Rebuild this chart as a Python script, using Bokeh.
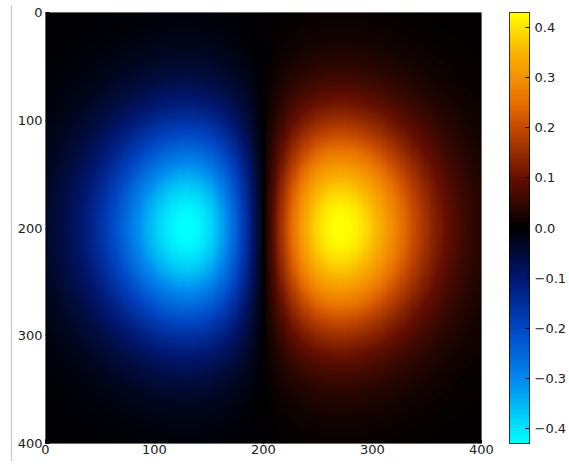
import numpy as np
from bokeh.plotting import figure
from bokeh.layouts import row
from bokeh.models import (LinearColorMapper, FixedTicker, Range1d,
                          CustomJSTickFormatter, Div)
from bokeh.embed import file_html
from bokeh.resources import INLINE

# ---- data: image field sampled on a 400 x 400 grid ----
n_pixels = 400
x_extent = [-2.0, 2.0]
y_extent = [-2.0, 2.0]
axis_ticks = [0, 100, 200, 300, 400]
cbar_ticks = [-0.4, -0.3, -0.2, -0.1, 0.0, 0.1, 0.2, 0.3, 0.4]

# ---- colormap anchors (fraction of range, RGB) ----
cmap_pos = [0.0, 0.15, 0.27, 0.385, 0.5, 0.615, 0.73, 0.79, 0.85, 0.91, 1.0]
cmap_rgb = [(0, 255, 255), (0, 135, 238), (0, 68, 195), (0, 22, 110),
            (0, 0, 0), (100, 14, 0), (195, 70, 0), (230, 110, 0),
            (245, 145, 0), (250, 180, 0), (255, 255, 0)]

xs = np.linspace(x_extent[0], x_extent[1], n_pixels)
ys = np.linspace(y_extent[0], y_extent[1], n_pixels)
X, Y = np.meshgrid(xs, ys)
Z = (X * np.exp(-X ** 2 - Y ** 2)).astype(np.float32)

t = np.linspace(0, 1, 256)
pos = np.array(cmap_pos)
rgb = np.array(cmap_rgb, dtype=float)
palette = []
for ti in t:
    r = np.interp(ti, pos, rgb[:, 0])
    g = np.interp(ti, pos, rgb[:, 1])
    b = np.interp(ti, pos, rgb[:, 2])
    palette.append("#%02x%02x%02x" % (int(round(r)), int(round(g)), int(round(b))))

vmax = float(np.abs(Z).max())
mapper = LinearColorMapper(palette=palette, low=-vmax, high=vmax)

FONT = "DejaVu Sans"
FSIZE = "13px"
TXT = "#222222"

# ---- thin grey rule at the left edge ----
edge = Div(text='<div style="margin-left:11px;margin-top:5px;width:1px;'
                'height:456px;background:#c4c4c4"></div>',
           width=13, height=464, margin=0)

# ---- main image ----
p = figure(width=481, height=464,
           x_range=Range1d(0, n_pixels), y_range=Range1d(n_pixels, 0),
           output_backend="svg", toolbar_location=None,
           min_border_left=32, min_border_top=10, min_border_right=13,
           min_border_bottom=0, margin=0)
p.image(image=[Z], x=0, y=0, dw=n_pixels, dh=n_pixels, color_mapper=mapper)
p.grid.visible = False
p.outline_line_color = "#8a8a8a"
p.outline_line_width = 1
p.border_fill_color = "white"

for ax in (p.xaxis[0], p.yaxis[0]):
    ax.ticker = FixedTicker(ticks=axis_ticks)
    ax.axis_line_color = None
    ax.major_tick_in = 4
    ax.major_tick_out = 0
    ax.major_tick_line_color = "black"
    ax.minor_tick_line_color = None
    ax.major_label_text_font = FONT
    ax.major_label_text_font_size = FSIZE
    ax.major_label_text_color = TXT
p.xaxis.major_label_standoff = 1
p.yaxis.major_label_standoff = 3

# ---- colour bar as its own small figure ----
cb_vals = np.linspace(-vmax, vmax, 256, dtype=np.float32).reshape(256, 1)
pc = figure(width=75, height=464,
            x_range=Range1d(0, 1), y_range=Range1d(-vmax, vmax),
            x_axis_location=None, y_axis_location="right",
            output_backend="svg", toolbar_location=None,
            min_border_left=15, min_border_top=12, min_border_bottom=21,
            min_border_right=0, margin=0)
pc.image(image=[cb_vals], x=0, y=-vmax, dw=1, dh=2 * vmax, color_mapper=mapper)
pc.grid.visible = False
pc.outline_line_color = "black"
pc.outline_line_width = 1
pc.border_fill_color = "white"
yax = pc.yaxis[0]
yax.ticker = FixedTicker(ticks=cbar_ticks)
yax.formatter = CustomJSTickFormatter(code="return tick.toFixed(1).replace('-', '\\u2212');")
yax.axis_line_color = None
yax.major_tick_in = 4
yax.major_tick_out = 0
yax.major_tick_line_color = "black"
yax.minor_tick_line_color = None
yax.major_label_standoff = 5
yax.major_label_text_font = FONT
yax.major_label_text_font_size = FSIZE
yax.major_label_text_color = TXT

layout = row(edge, p, pc, spacing=0, margin=0)
open("out.html", "w").write(file_html(layout, INLINE))
